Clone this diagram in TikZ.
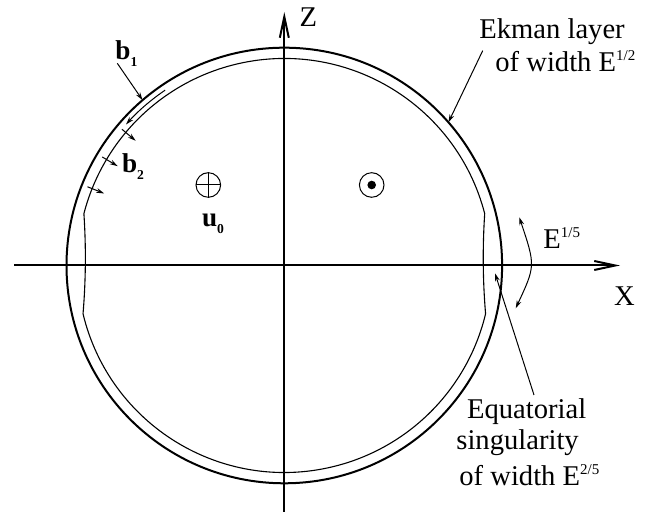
\documentclass[tikz,border=0pt]{standalone}
\usepackage{fontspec}
\setmainfont{Liberation Serif}
\usetikzlibrary{calc,arrows.meta}
\newcommand{\mysup}[1]{\raisebox{5.5pt}{\fontsize{7.5}{8}\selectfont #1}}
\newcommand{\mysub}[1]{\raisebox{-3.5pt}{\fontsize{6.8}{7}\selectfont\bfseries #1}}
\begin{document}
\begin{tikzpicture}[x=0.5pt,y=0.5pt,
  txt/.style={font=\fontsize{14.3}{17}\selectfont, inner sep=0pt},
  blabel/.style={font=\fontsize{13.6}{15}\selectfont\bfseries, inner sep=0pt},
  axisline/.style={line width=1pt, -{Straight Barb[length=10.5pt,width=4.5pt]}},
  outerc/.style={line width=1pt},
  innerc/.style={line width=0.55pt},
  leader/.style={line width=0.5pt},
  tipend/.style={-{Stealth[length=4pt,width=2.4pt]}},
  symb/.style={circle, draw, line width=0.5pt, minimum size=12.3pt, inner sep=0pt}]
\useasboundingbox (0,0) rectangle (646,512);
\coordinate (C) at (284.3,246.5);
% axes
\coordinate (xl) at (14,246.5);
\coordinate (xr) at (620,246.5);
\coordinate (zb) at (284.3,0);
\coordinate (zt) at (284.3,500);
\draw[axisline] (xl) -- (xr);
\draw[axisline] (zb) -- (zt);
\node[txt] (zl) at (308.3,494.5) {Z};
\node[txt] (xlab) at (624.5,216) {X};
% outer circle
\draw[outerc] (C) circle[radius=217.8];
% inner boundary with equatorial singularity
\coordinate (iA) at ($(C)+(14.5:207)$);
\coordinate (iB) at ($(C)+(165.5:207)$);
\coordinate (iC) at ($(C)+(193.5:207)$);
\coordinate (iD) at ($(C)+(346.5:207)$);
\draw[innerc] (iA) arc[start angle=14.5,end angle=165.5,radius=207]
  .. controls ($(iB)!0.333!(iC)+(2.5,0)$) and ($(iB)!0.667!(iC)+(2.5,0)$) .. (iC)
  arc[start angle=193.5,end angle=346.5,radius=207]
  .. controls ($(iD)!0.333!(iA)+(-2.5,0)$) and ($(iD)!0.667!(iA)+(-2.5,0)$) .. (iA);
% symbols
\node[symb] (oplus) at (208.3,327) {};
\draw[line width=0.5pt] (oplus.north) -- (oplus.south) (oplus.west) -- (oplus.east);
\node[symb] (odot) at (371.7,327) {};
\fill (odot.center) circle[radius=4.3];
% labels
\node[blabel, anchor=base west] (b1) at (115,452) {b\mysub{1}};
\node[blabel, anchor=base west] (b2) at (121.7,339) {b\mysub{2}};
\node[blabel, anchor=base west] (u0) at (201.7,285.3) {u\mysub{0}};
% b1 leader
\coordinate (b1s) at (117.3,448.7);
\coordinate (b1e) at ($(C)+(130.6:217.8)$);
\draw[leader,tipend] (b1s) -- (b1e);
% arc arrow between circles
\coordinate (arcS) at ($(C)+(124.2:212)$);
\draw[leader,tipend] (arcS) arc[start angle=124.2,end angle=138.3,radius=212];
% b2 arrows
\foreach \a/\n in {140/p,149.2/q,158.2/r}{
  \coordinate (\n s) at ($(C)+(\a:212)$);
  \coordinate (\n e) at ($(C)+(\a:194)$);
  \draw[leader,tipend] (\n s) -- (\n e);
}
% Ekman layer label
\node[txt, anchor=base west] (ek1) at (479,473) {Ekman layer};
\node[txt, anchor=base west] (ek2) at (495,440) {of width E\mysup{1/2}};
\coordinate (eks) at (482.7,461.3);
\coordinate (eke) at ($(C)+(41.1:217.8)$);
\draw[leader,tipend] (eks) -- (eke);
% E^{1/5} arrow
\node[txt, anchor=base west] (e15) at (543,263) {E\mysup{1/5}};
\coordinate (ar1) at (519.3,294.7);
\coordinate (ar2) at (515.7,203.7);
\draw[leader,{Stealth[length=4pt,width=2.4pt]}-{Stealth[length=4pt,width=2.4pt]}]
  (ar1) .. controls (535.5,246.2) .. (ar2);
% Equatorial label
\node[txt, anchor=base west] (eq1) at (466.7,93) {Equatorial};
\node[txt, anchor=base west] (eq2) at (456,62) {singularity};
\node[txt, anchor=base west] (eq3) at (459,26) {of width E\mysup{2/5}};
\coordinate (eqs) at (534,117);
\coordinate (eqe) at (495,238.7);
\draw[leader,tipend] (eqs) -- (eqe);
\end{tikzpicture}
\end{document}
